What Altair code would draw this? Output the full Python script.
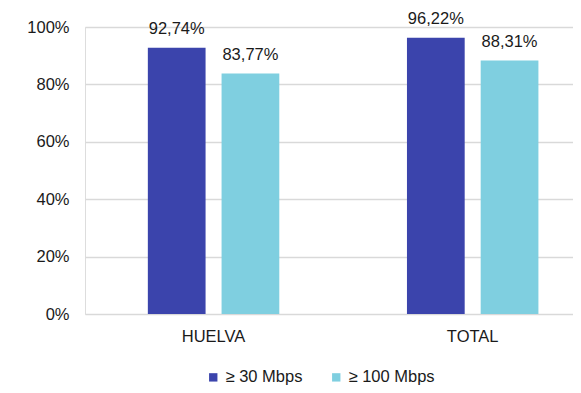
import altair as alt
import pandas as pd

categories = ["HUELVA", "TOTAL"]
series = ["≥ 30 Mbps", "≥ 100 Mbps"]
values_30 = [92.74, 96.22]
values_100 = [83.77, 88.31]
colors = ["#3B44AC", "#7FCFE0"]

rows = []
for i, c in enumerate(categories):
    for s, vals in zip(series, [values_30, values_100]):
        v = vals[i]
        rows.append({"cat": c, "serie": s, "val": v / 100.0,
                     "label": f"{v:.2f}".replace(".", ",") + "%"})
df = pd.DataFrame(rows)

FONT = "Liberation Sans"

x = alt.X("cat:N", sort=categories, title=None,
          scale=alt.Scale(paddingInner=0.4927, paddingOuter=0.188, align=0.645),
          axis=alt.Axis(labelAngle=0, ticks=False, domain=False, labelPadding=14,
                        labelFontSize=16.5, labelColor="#1a1a1a", labelFont=FONT))
xo = alt.XOffset("serie:N", sort=series, scale=alt.Scale(paddingInner=0.217))
y = alt.Y("val:Q", title=None,
          scale=alt.Scale(domain=[0, 1], nice=False),
          axis=alt.Axis(values=[0, 0.2, 0.4, 0.6, 0.8, 1.0], format=".0%", ticks=False,
                        domain=False, labelPadding=16, labelFontSize=16.5,
                        labelColor="#1a1a1a", labelFont=FONT,
                        gridColor="#d9d9d9", gridWidth=1.3))

color = alt.Color("serie:N", sort=series, title=None,
                  scale=alt.Scale(domain=series, range=colors),
                  legend=alt.Legend(orient="none", legendX=120, legendY=342,
                                    direction="horizontal", symbolType="square",
                                    symbolSize=70, symbolStrokeWidth=0,
                                    labelFontSize=16.5, labelFont=FONT,
                                    labelColor="#1a1a1a", columnPadding=25,
                                    labelOffset=4, padding=0))

bars = alt.Chart(df).mark_bar().encode(x=x, xOffset=xo, y=y, color=color)
text = alt.Chart(df).mark_text(baseline="bottom", dy=-11, fontSize=16.5, font=FONT,
                               color="#1a1a1a").encode(
    x=alt.X("cat:N", sort=categories), xOffset=alt.XOffset("serie:N", sort=series),
    y="val:Q", text="label:N")

chart = alt.layer(bars, text).properties(
    width=488, height=287,
    autosize=alt.AutoSizeParams(type="none"),
    padding={"left": 77, "top": 19, "right": 0, "bottom": 71},
).configure_view(stroke=None).configure(background="white")

chart.save("out.html", embed_options={"renderer": "svg", "actions": False})
